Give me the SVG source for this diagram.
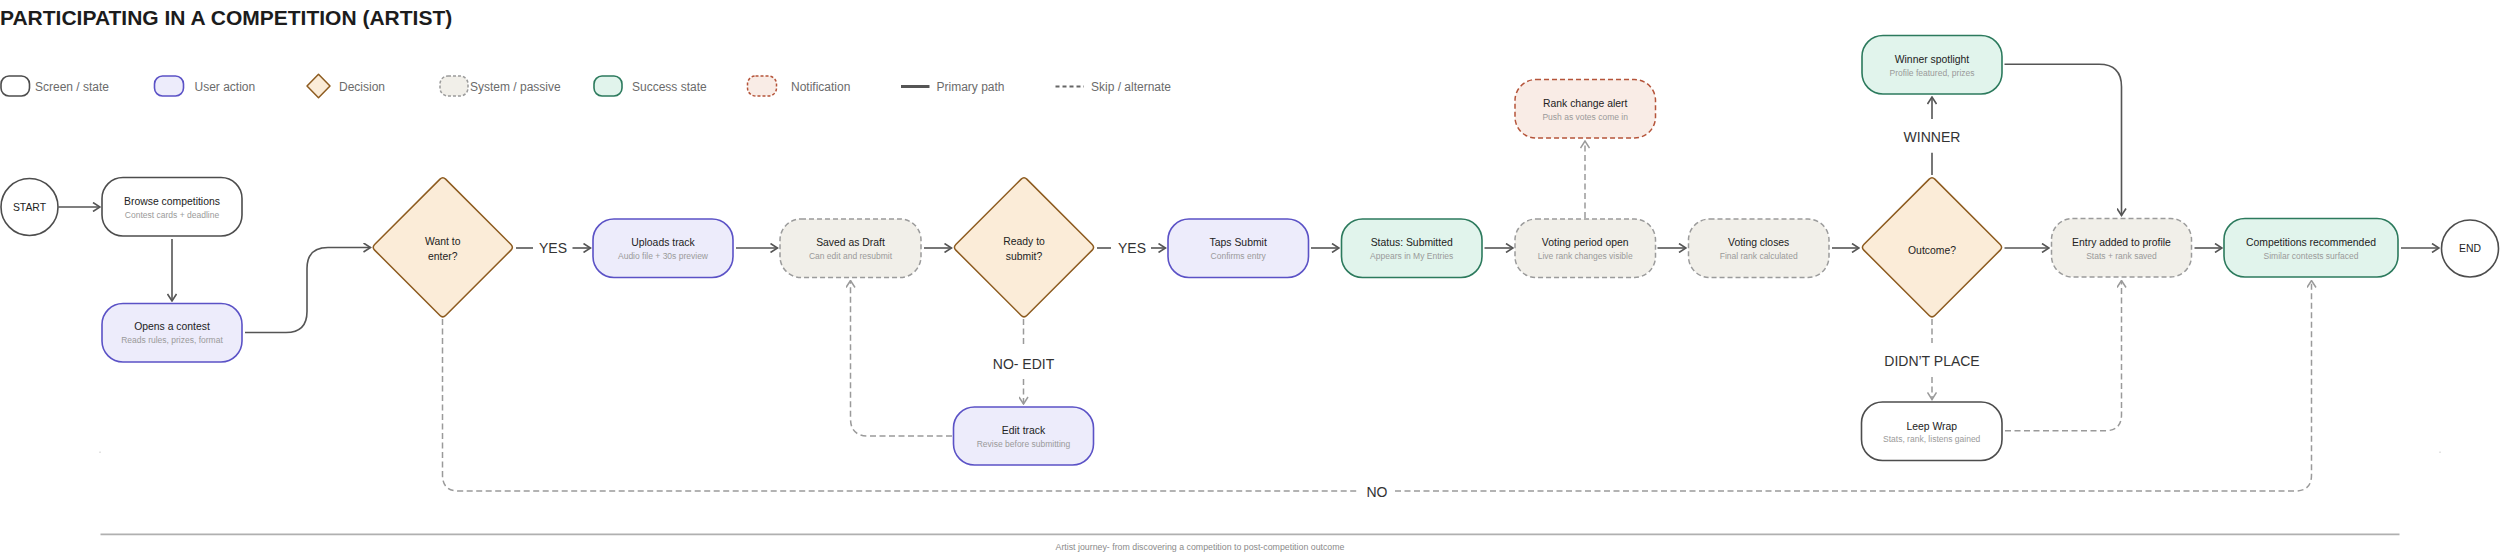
<svg xmlns="http://www.w3.org/2000/svg" xmlns:xlink="http://www.w3.org/1999/xlink" width="2500" height="552" viewBox="0 0 2500 552">
<style>
text{font-family:"Liberation Sans",Arial,sans-serif}
.scr{fill:#fff;stroke:#4d4d4d;stroke-width:1.6}
.usr{fill:#edecfb;stroke:#5b52c6;stroke-width:1.6}
.dec{fill:#fbecd8;stroke:#8d5b1f;stroke-width:1.5}
.sys{fill:#f1efe9;stroke:#9b9b9b;stroke-width:1.5;stroke-dasharray:5 3}
.suc{fill:#e1f4ec;stroke:#2c7a5d;stroke-width:1.6}
.ntf{fill:#f9ece6;stroke:#b5543a;stroke-width:1.5;stroke-dasharray:5 3}
.t{font-size:10.4px;fill:#222;text-anchor:middle}
.s{font-size:8.5px;fill:#9a9a9a;text-anchor:middle}
.lbl{font-size:14px;fill:#333}
.leg{font-size:12px;fill:#6b6b6b}
.p{fill:none;stroke:#555;stroke-width:1.6}
.d{fill:none;stroke:#9a9a9a;stroke-width:1.5;stroke-dasharray:6 3.5}
</style>
<defs>
<marker id="ah" viewBox="0 0 10 10" refX="9" refY="5" markerWidth="10" markerHeight="10" markerUnits="userSpaceOnUse" orient="auto"><path d="M2,0.5 L9,5 L2,9.5" fill="none" stroke="#555" stroke-width="1.6"/></marker>
<marker id="ahd" viewBox="0 0 10 10" refX="9" refY="5" markerWidth="10" markerHeight="10" markerUnits="userSpaceOnUse" orient="auto"><path d="M2,0.5 L9,5 L2,9.5" fill="none" stroke="#9a9a9a" stroke-width="1.5"/></marker>
<path id="dia" d="M-2.8,-68.2 Q0,-71 2.8,-68.2 L68.2,-2.8 Q71,0 68.2,2.8 L2.8,68.2 Q0,71 -2.8,68.2 L-68.2,2.8 Q-71,0 -68.2,-2.8 Z"/>
</defs>

<text x="0" y="25" font-size="21" font-weight="bold" fill="#1c1c1c">PARTICIPATING IN A COMPETITION (ARTIST)</text>

<g id="legend">
<rect class="scr" x="1" y="76" width="28.5" height="20" rx="8"/>
<text class="leg" x="35" y="91">Screen / state</text>
<rect class="usr" x="154.5" y="76" width="29" height="20" rx="8"/>
<text class="leg" x="194.5" y="91">User action</text>
<path class="dec" d="M318.5,74.2 L330,86 L318.5,97.8 L307,86 Z" stroke-linejoin="round"/>
<text class="leg" x="339" y="91">Decision</text>
<rect class="sys" x="440" y="76" width="28" height="20" rx="8" style="stroke-dasharray:3 2"/>
<text class="leg" x="470" y="91">System / passive</text>
<rect class="suc" x="594" y="76" width="28" height="20" rx="8"/>
<text class="leg" x="632" y="91">Success state</text>
<rect class="ntf" x="747.5" y="76" width="29" height="20" rx="8" style="stroke-dasharray:3 2"/>
<text class="leg" x="791" y="91">Notification</text>
<path d="M901,86.5 H929.5" stroke="#555" stroke-width="3"/>
<text class="leg" x="936.5" y="91">Primary path</text>
<path d="M1055.5,86.5 H1084" stroke="#666" stroke-width="2" stroke-dasharray="4 3"/>
<text class="leg" x="1091" y="91">Skip / alternate</text>
</g>

<g id="connectors">
<path class="p" d="M58.5,207 H100" marker-end="url(#ah)"/>
<path class="p" d="M172,239 V301" marker-end="url(#ah)"/>
<path class="p" d="M245,332.5 H286 Q307,332.5 307,311.5 V268.5 Q307,247.5 328,247.5 H370.5" marker-end="url(#ah)"/>
<path class="p" d="M516,248 H533"/>
<text class="lbl" x="539" y="253">YES</text>
<path class="p" d="M572.5,248 H590.5" marker-end="url(#ah)"/>
<path class="p" d="M736,248 H777.5" marker-end="url(#ah)"/>
<path class="p" d="M924,248 H951.5" marker-end="url(#ah)"/>
<path class="p" d="M1097,248 H1111"/>
<text class="lbl" x="1118" y="253">YES</text>
<path class="p" d="M1151,248 H1165.5" marker-end="url(#ah)"/>
<path class="p" d="M1311,248 H1339" marker-end="url(#ah)"/>
<path class="p" d="M1484.5,248 H1513" marker-end="url(#ah)"/>
<path class="p" d="M1657.5,248 H1686" marker-end="url(#ah)"/>
<path class="p" d="M1832,248 H1859" marker-end="url(#ah)"/>
<path class="p" d="M2004.5,248 H2049" marker-end="url(#ah)"/>
<path class="p" d="M2194.5,248 H2222" marker-end="url(#ah)"/>
<path class="p" d="M2401,248 H2439" marker-end="url(#ah)"/>
<path class="p" d="M1932,175 V152.7"/>
<text class="lbl" x="1932" y="141.7" text-anchor="middle">WINNER</text>
<path class="p" d="M1932,119 V97" marker-end="url(#ah)"/>
<path class="p" d="M2004.5,64.3 H2099 Q2121.5,64.3 2121.5,86.8 V215.5" marker-end="url(#ah)"/>

<path class="d" d="M1585,218 V141" marker-end="url(#ahd)"/>
<path class="d" d="M1023.5,319 V345"/>
<text class="lbl" x="1023.5" y="368.5" text-anchor="middle">NO- EDIT</text>
<path class="d" d="M1023.5,379 V404" marker-end="url(#ahd)"/>
<path class="d" d="M952,436 H868 Q850.5,436 850.5,418.5 V280.5" marker-end="url(#ahd)"/>
<path class="d" d="M1932,319 V343"/>
<text class="lbl" x="1932" y="366" text-anchor="middle">DIDN’T PLACE</text>
<path class="d" d="M1932,377 V399.5" marker-end="url(#ahd)"/>
<path class="d" d="M2005,430.7 H2105.5 Q2121.5,430.7 2121.5,414.7 V280.5" marker-end="url(#ahd)"/>
<path class="d" d="M442.5,319 V475 Q442.5,491 458.5,491 H1358"/>
<text class="lbl" x="1377" y="496.5" text-anchor="middle">NO</text>
<path class="d" d="M1395,491 H2295.5 Q2311.5,491 2311.5,475 V280.5" marker-end="url(#ahd)"/>
</g>

<g id="start"><circle class="scr" cx="29.5" cy="207" r="28.5"/><text class="t" x="29.5" y="211">START</text></g>
<g id="browse"><rect class="scr" x="102" y="177.5" width="140" height="58.5" rx="21"/><text class="t" x="172" y="205.4">Browse competitions</text><text class="s" x="172" y="217.5">Contest cards + deadline</text></g>
<g id="opens"><rect class="usr" x="102" y="303.5" width="140" height="58.5" rx="21"/><text class="t" x="172" y="330.4">Opens a contest</text><text class="s" x="172" y="343">Reads rules, prizes, format</text></g>
<g id="want"><use xlink:href="#dia" class="dec" x="442.8" y="247.3"/><text class="t" x="442.8" y="244.7">Want to</text><text class="t" x="442.8" y="260.4">enter?</text></g>
<g id="uploads"><rect class="usr" x="593" y="219" width="140" height="58.5" rx="21"/><text class="t" x="663" y="246">Uploads track</text><text class="s" x="663" y="259">Audio file + 30s preview</text></g>
<g id="saved"><rect class="sys" x="780" y="219" width="141" height="58.5" rx="21"/><text class="t" x="850.5" y="246">Saved as Draft</text><text class="s" x="850.5" y="259">Can edit and resubmit</text></g>
<g id="ready"><use xlink:href="#dia" class="dec" x="1024" y="247.3"/><text class="t" x="1024" y="244.7">Ready to</text><text class="t" x="1024" y="260.4">submit?</text></g>
<g id="edit"><rect class="usr" x="953.5" y="407" width="140" height="58" rx="21"/><text class="t" x="1023.5" y="433.7">Edit track</text><text class="s" x="1023.5" y="446.7">Revise before submitting</text></g>
<g id="taps"><rect class="usr" x="1168" y="219" width="140.5" height="58.5" rx="21"/><text class="t" x="1238.2" y="246">Taps Submit</text><text class="s" x="1238.2" y="259">Confirms entry</text></g>
<g id="status"><rect class="suc" x="1341.5" y="219" width="140.5" height="58.5" rx="21"/><text class="t" x="1411.7" y="246">Status: Submitted</text><text class="s" x="1411.7" y="259">Appears in My Entries</text></g>
<g id="voting-open"><rect class="sys" x="1515" y="219" width="140.5" height="58.5" rx="21"/><text class="t" x="1585.2" y="246">Voting period open</text><text class="s" x="1585.2" y="259">Live rank changes visible</text></g>
<g id="rank-alert"><rect class="ntf" x="1515" y="79.5" width="140.5" height="58.5" rx="21"/><text class="t" x="1585.2" y="107">Rank change alert</text><text class="s" x="1585.2" y="120">Push as votes come in</text></g>
<g id="voting-closes"><rect class="sys" x="1688.5" y="219" width="140.5" height="58.5" rx="21"/><text class="t" x="1758.7" y="246">Voting closes</text><text class="s" x="1758.7" y="259">Final rank calculated</text></g>
<g id="outcome"><use xlink:href="#dia" class="dec" x="1932" y="247.3"/><text class="t" x="1932" y="253.7">Outcome?</text></g>
<g id="winner"><rect class="suc" x="1862" y="35.5" width="140" height="58.5" rx="21"/><text class="t" x="1932" y="63">Winner spotlight</text><text class="s" x="1932" y="75.7">Profile featured, prizes</text></g>
<g id="leep"><rect class="scr" x="1861.5" y="402" width="140.5" height="58.5" rx="21"/><text class="t" x="1931.7" y="429.7">Leep Wrap</text><text class="s" x="1931.7" y="442">Stats, rank, listens gained</text></g>
<g id="entry"><rect class="sys" x="2051.5" y="218.5" width="140" height="58.5" rx="21"/><text class="t" x="2121.5" y="245.7">Entry added to profile</text><text class="s" x="2121.5" y="258.7">Stats + rank saved</text></g>
<g id="recommended"><rect class="suc" x="2224" y="218.5" width="174" height="58.5" rx="21"/><text class="t" x="2311" y="245.7">Competitions recommended</text><text class="s" x="2311" y="258.7">Similar contests surfaced</text></g>
<g id="end"><circle class="scr" cx="2470" cy="248.5" r="28.5"/><text class="t" x="2470" y="252.3">END</text></g>

<g id="footer">
<path d="M100,451.5 v1.5 M2440,451.5 v1.5" stroke="#c8c8c8" stroke-width="1"/>
<path d="M100.5,534.3 H2399.5" stroke="#b0b0b0" stroke-width="1.8"/>
<text x="1200" y="550" font-size="8.8" fill="#8a8a8a" text-anchor="middle">Artist journey- from discovering a competition to post-competition outcome</text>
</g>
</svg>
